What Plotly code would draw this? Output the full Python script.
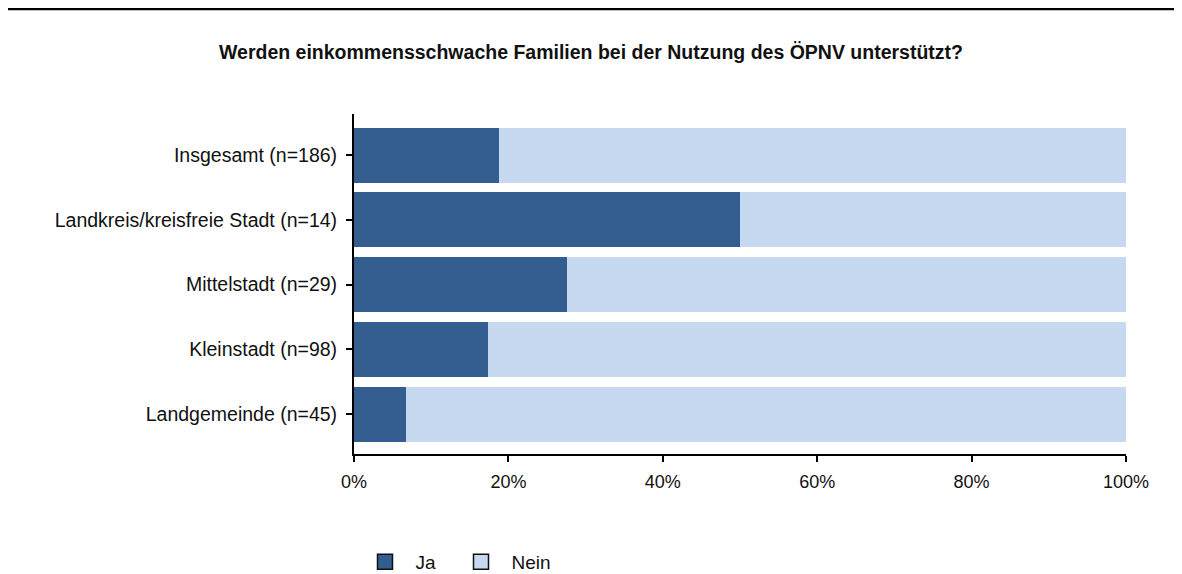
import plotly.graph_objects as go

categories = ['Insgesamt (n=186)', 'Landkreis/kreisfreie Stadt (n=14)',
              'Mittelstadt (n=29)', 'Kleinstadt (n=98)', 'Landgemeinde (n=45)']
ja = [18.8, 50.0, 27.6, 17.3, 6.7]
nein = [100 - v for v in ja]

col_ja = '#345e8f'
col_nein = '#c6d9f0'
font = 'Liberation Sans, Arial'

# page body has an 8px margin -> figure is offset by 8px
W, H = 1166, 566
L, R, T, B = 346, 48, 106, 120
pw, ph = W - L - R, H - T - B

fig = go.Figure()
fig.add_trace(go.Bar(y=categories, x=ja, orientation='h', name='Ja',
                     marker={'color': col_ja, 'line': {'width': 0}},
                     width=0.85, showlegend=False))
fig.add_trace(go.Bar(y=categories, x=nein, orientation='h', name='Nein',
                     marker={'color': col_nein, 'line': {'width': 0}},
                     width=0.85, showlegend=False))

# legend entries as squares with dark outline
for name, c in [('Ja', col_ja), ('Nein', col_nein)]:
    fig.add_trace(go.Scatter(x=[None], y=[None], mode='markers',
                             name='\u00a0\u00a0' + name,
                             marker={'symbol': 'square', 'size': 15, 'color': c,
                                     'line': {'color': '#111', 'width': 1.5}}))

fig.update_layout(
    barmode='stack',
    width=W, height=H,
    margin={'l': L, 'r': R, 't': T, 'b': B, 'autoexpand': False},
    paper_bgcolor='white', plot_bgcolor='white',
    font={'family': font, 'size': 19.5, 'color': '#111'},
    title={'text': '<b>Werden einkommensschwache Familien bei der Nutzung des ÖPNV unterstützt?</b>',
           'x': 0.5, 'xanchor': 'center', 'y': 1 - 44 / H, 'yanchor': 'middle',
           'font': {'family': font, 'size': 19.5, 'color': '#111'}},
    showlegend=True,
    legend={'orientation': 'h', 'x': 11 / pw, 'xanchor': 'left',
            'y': -(554 - (T + ph)) / ph, 'yanchor': 'middle',
            'font': {'size': 19}, 'entrywidth': 51, 'traceorder': 'normal'},
)

fig.update_xaxes(range=[0, 100], tickvals=[0, 20, 40, 60, 80, 100],
                 ticktext=['0%', '20%', '40%', '60%', '80%', '100%'],
                 tickfont={'size': 18},
                 showgrid=False, zeroline=False, showline=True, linecolor='black',
                 linewidth=2, ticks='outside', ticklen=6, tickwidth=2, tickcolor='black',
                 ticklabelstandoff=4, fixedrange=True)
fig.update_yaxes(categoryorder='array', categoryarray=categories,
                 range=[4.615, -0.635], showgrid=False, zeroline=False,
                 showline=True, linecolor='black', linewidth=2,
                 ticks='outside', ticklen=6, tickwidth=2, tickcolor='black',
                 ticklabelstandoff=5, fixedrange=True)

fig.add_shape(type='line', xref='paper', yref='paper',
              x0=-L / pw, x1=(W - L) / pw,
              y0=(T + ph - 1) / ph, y1=(T + ph - 1) / ph,
              line={'color': 'black', 'width': 2.5})

fig.write_html('out.html')
